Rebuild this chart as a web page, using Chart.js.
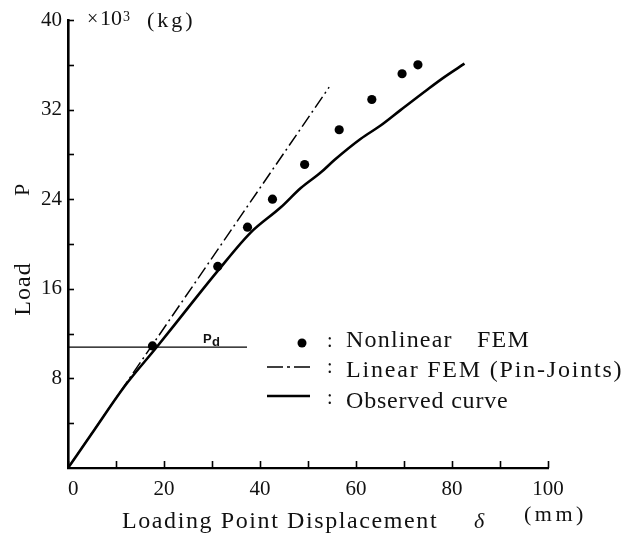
<!DOCTYPE html>
<html>
<head>
<meta charset="utf-8">
<script src="https://cdn.jsdelivr.net/npm/chart.js@4.4.0/dist/chart.umd.min.js"></script>
<style>
  html, body { margin: 0; padding: 0; background: #fff; }
  canvas { display: block; }
</style>
</head>
<body>
<canvas id="loadChart" width="624" height="533"></canvas>
<script>
// values (displacement in mm, load in 10^3 kg)
const nonlinearX = [17.6, 31.2, 37.4, 42.6, 49.3, 56.5, 63.3, 69.6, 72.9];
const nonlinearY = [10.9, 18.0, 21.5, 24.0, 27.1, 30.2, 32.9, 35.2, 36.0];

const linearX = [0, 54.4];
const linearY = [0, 34.0];

const observedX = [0, 5, 11.8, 18.5, 25, 31.2, 38, 44.4, 48.5, 52.7, 55.5, 61, 65.2, 69.4, 74.9, 78.4, 82.6];
const observedY = [0, 3.1, 7.3, 10.8, 14.3, 17.6, 21.0, 23.3, 25.0, 26.4, 27.5, 29.4, 30.6, 32.0, 33.8, 34.9, 36.1];

const pdX = [0, 37.3];
const pdY = [10.8, 10.8];

const xTickLabels = [0, 20, 40, 60, 80, 100];
const yTickLabels = [8, 16, 24, 32, 40];

const toPoints = (xs, ys) => xs.map((x, i) => ({ x: x, y: ys[i] }));

const SERIF = "'Liberation Serif', 'DejaVu Serif', serif";
const INK = "#111";

// ticks point inward, so they are drawn here instead of by the scales
const decorations = {
    id: "decorations",
    afterDraw(chart) {
        const ctx = chart.ctx;
        const xs = chart.scales.x;
        const ys = chart.scales.y;
        const area = chart.chartArea;

        ctx.save();
        ctx.strokeStyle = "#000";
        ctx.lineWidth = 1.6;
        for (let v = 0; v <= 100; v += 10) {
            const px = Math.round(xs.getPixelForValue(v)) + 0.5;
            ctx.beginPath();
            ctx.moveTo(px, area.bottom);
            ctx.lineTo(px, area.bottom - 7);
            ctx.stroke();
        }
        for (let v = 4; v <= 40; v += 4) {
            const py = Math.round(ys.getPixelForValue(v)) + 0.5;
            ctx.beginPath();
            ctx.moveTo(area.left, py);
            ctx.lineTo(area.left + 6, py);
            ctx.stroke();
        }

        ctx.fillStyle = INK;
        ctx.textBaseline = "alphabetic";
        ctx.textAlign = "left";

        // unit at the top of the load axis
        ctx.font = "20px " + SERIF;
        ctx.letterSpacing = "0px";
        ctx.fillText("\u00d7", 87, 25);
        ctx.font = "22px " + SERIF;
        ctx.fillText("10", 100, 25);
        ctx.font = "14px " + SERIF;
        ctx.fillText("3", 123, 21);
        ctx.font = "22px " + SERIF;
        ctx.letterSpacing = "3px";
        ctx.fillText("(kg)", 147, 27);

        // y axis title
        ctx.save();
        ctx.translate(30, 289);
        ctx.rotate(-Math.PI / 2);
        ctx.textAlign = "center";
        ctx.font = "24px " + SERIF;
        ctx.letterSpacing = "1px";
        ctx.fillText("Load", 0, 0);
        ctx.restore();
        ctx.save();
        ctx.translate(29, 190);
        ctx.rotate(-Math.PI / 2);
        ctx.textAlign = "center";
        ctx.font = "22px " + SERIF;
        ctx.letterSpacing = "0px";
        ctx.fillText("P", 0, 0);
        ctx.restore();

        // x axis title
        ctx.font = "24px " + SERIF;
        ctx.letterSpacing = "1.6px";
        ctx.fillText("Loading Point Displacement", 122, 528);
        ctx.letterSpacing = "0px";
        ctx.font = "italic 22px " + SERIF;
        ctx.fillText("\u03b4", 474, 528);
        ctx.font = "22px " + SERIF;
        ctx.letterSpacing = "3.5px";
        ctx.fillText("(mm)", 524, 521);

        // design load label
        ctx.letterSpacing = "0px";
        ctx.font = "bold 13px 'Liberation Sans', Arial, sans-serif";
        ctx.fillText("P", 203, 343);
        ctx.fillText("d", 212, 346);

        // legend
        ctx.fillStyle = "#000";
        ctx.beginPath();
        ctx.arc(302, 343, 4.5, 0, Math.PI * 2);
        ctx.fill();

        ctx.strokeStyle = "#000";
        ctx.lineWidth = 1.5;
        ctx.setLineDash([16, 4, 3, 4]);
        ctx.beginPath();
        ctx.moveTo(267, 367);
        ctx.lineTo(312, 367);
        ctx.stroke();
        ctx.setLineDash([]);
        ctx.lineWidth = 2.6;
        ctx.beginPath();
        ctx.moveTo(267, 396);
        ctx.lineTo(310, 396);
        ctx.stroke();

        ctx.fillStyle = INK;
        ctx.font = "20px " + SERIF;
        ctx.fillText(":", 327, 347);
        ctx.fillText(":", 327, 373);
        ctx.fillText(":", 327, 404);

        ctx.font = "24px " + SERIF;
        ctx.letterSpacing = "1.2px";
        ctx.fillText("Nonlinear", 346, 347);
        ctx.fillText("FEM", 477, 347);
        ctx.letterSpacing = "1.8px";
        ctx.fillText("Linear FEM (Pin-Joints)", 346, 377);
        ctx.letterSpacing = "0.8px";
        ctx.fillText("Observed curve", 346, 408);
        ctx.restore();
    }
};

const ctx = document.getElementById("loadChart").getContext("2d");

const loadChart = new Chart(ctx, {
    type: "scatter",
    data: {
        datasets: [
            {
                label: "Nonlinear FEM",
                data: toPoints(nonlinearX, nonlinearY),
                showLine: false,
                pointRadius: 4.6,
                pointBackgroundColor: "#000",
                pointBorderWidth: 0,
            },
            {
                label: "Linear FEM (Pin-Joints)",
                data: toPoints(linearX, linearY),
                showLine: true,
                borderColor: "#000",
                borderWidth: 1.5,
                borderDash: [13, 4, 2, 4],
                pointRadius: 0,
            },
            {
                label: "Observed curve",
                data: toPoints(observedX, observedY),
                showLine: true,
                borderColor: "#000",
                borderWidth: 2.6,
                cubicInterpolationMode: "monotone",
                pointRadius: 0,
            },
            {
                label: "Pd",
                data: toPoints(pdX, pdY),
                showLine: true,
                borderColor: "#000",
                borderWidth: 1.2,
                pointRadius: 0,
            },
        ],
    },
    options: {
        responsive: false,
        animation: false,
        layout: {
            padding: { left: 0, right: 76, top: 20, bottom: 0 },
        },
        plugins: {
            legend: { display: false },
            tooltip: { enabled: false },
        },
        scales: {
            x: {
                type: "linear",
                min: 0,
                max: 100,
                grid: { display: false, drawTicks: false },
                border: { display: true, color: "#000", width: 2.2 },
                ticks: {
                    stepSize: 10,
                    autoSkip: false,
                    maxRotation: 0,
                    padding: 9,
                    color: INK,
                    font: { family: SERIF, size: 21 },
                    callback: (v) => xTickLabels.includes(v) ? (v === 0 ? "\u2002" + v : String(v)) : "",
                },
                afterFit: (scale) => { scale.height = 65; },
            },
            y: {
                type: "linear",
                min: 0,
                max: 40,
                grid: { display: false, drawTicks: false },
                border: { display: true, color: "#000", width: 2.6 },
                ticks: {
                    stepSize: 4,
                    autoSkip: false,
                    padding: 6,
                    color: INK,
                    font: { family: SERIF, size: 21 },
                    callback: (v) => yTickLabels.includes(v) ? String(v) : "",
                },
                afterFit: (scale) => { scale.width = 68; },
            },
        },
    },
    plugins: [decorations],
});
</script>
</body>
</html>
